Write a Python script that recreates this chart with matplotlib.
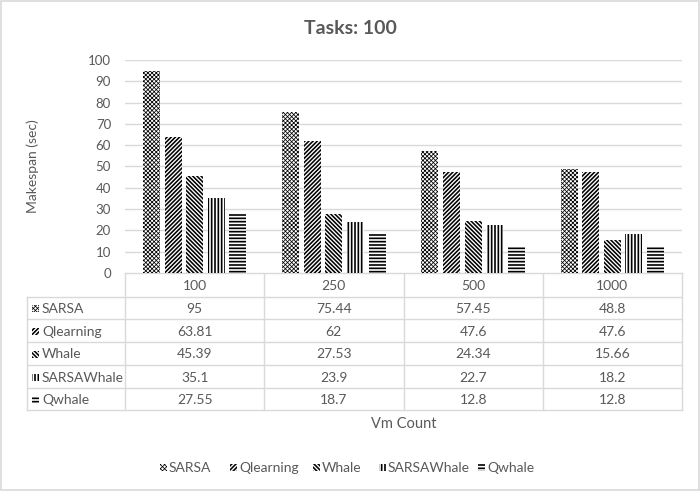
import matplotlib
matplotlib.use("Agg")
import matplotlib.pyplot as plt
from matplotlib.patches import Rectangle
import numpy as np

plt.rcParams['font.family'] = ['Lato', 'DejaVu Sans']
plt.rcParams['hatch.linewidth'] = 1.2

title = "Tasks: 100"
categories = ["100", "250", "500", "1000"]
series_names = ["SARSA", "Qlearning", "Whale", "SARSAWhale", "Qwhale"]
sarsa = [95, 75.44, 57.45, 48.8]
qlearning = [63.81, 62, 47.6, 47.6]
whale = [45.39, 27.53, 24.34, 15.66]
sarsawhale = [35.1, 23.9, 22.7, 18.2]
qwhale = [27.55, 18.7, 12.8, 12.8]
series_values = [sarsa, qlearning, whale, sarsawhale, qwhale]
yticks = [0, 10, 20, 30, 40, 50, 60, 70, 80, 90, 100]
xlabel = "Vm Count"
ylabel = "Makespan (sec)"

hatches = ['xxxxxxxx', '////////', '\\' * 8, '|||||', '-----']
hatch_lw = [0.55, 1.15, 1.15, 1.2, 1.2]
TXT = '#595959'
GRID = '#D9D9D9'

W, H = 700, 491
fig = plt.figure(figsize=(W / 100, H / 100), dpi=100)

# main axes (pixel layout)
x0, x1 = 125, 682
ytop, ybot = 60, 273
ax = fig.add_axes([x0 / W, (H - ybot) / H, (x1 - x0) / W, (ybot - ytop) / H])
n = len(series_names)
xs = np.arange(len(categories))
bw = 0.122
step = 0.155


def set_hlw(p, lw):
    try:
        p.set_hatch_linewidth(lw)
    except Exception:
        pass


for i, (name, vals) in enumerate(zip(series_names, series_values)):
    bars = ax.bar(xs + (i - (n - 1) / 2) * step, vals, width=bw, color='white',
                  edgecolor='black', linewidth=0, hatch=hatches[i], zorder=3)
    for b in bars:
        set_hlw(b, hatch_lw[i])
ax.set_xlim(-0.5, len(categories) - 0.5)
ax.set_ylim(0, 100)
ax.set_yticks(yticks)
ax.set_yticklabels([str(t) for t in yticks])
ax.tick_params(axis='y', length=0, pad=10, labelsize=9.5, colors=TXT)
ax.set_xticks([])
ax.grid(axis='y', color=GRID, linewidth=1, zorder=0)
for s in ax.spines.values():
    s.set_visible(False)

# overlay in pixel coordinates for title, table, labels, legend
ov = fig.add_axes([0, 0, 1, 1], zorder=-1)
ov.set_xlim(0, W)
ov.set_ylim(H, 0)
ov.axis('off')
ov.add_patch(Rectangle((1, 1), W - 2.5, H - 2.5, fill=False, edgecolor=GRID, linewidth=1.2))

ov.text(W / 2, 28, title, ha='center', va='center', fontsize=14, fontweight='bold', color=TXT)
ov.text(33, 166, ylabel, ha='center', va='center', rotation=90, fontsize=10, color=TXT)

# table
tl = 27
col_edges = np.linspace(x0, x1, len(categories) + 1)
row_edges = [273, 297, 319, 342, 365, 388, 410]
lc = dict(color=GRID, linewidth=1)
ov.plot([x0, x1], [row_edges[0], row_edges[0]], **lc)
for r in row_edges[1:]:
    ov.plot([tl, x1], [r, r], **lc)
for c in col_edges:
    ov.plot([c, c], [row_edges[0], row_edges[-1]], **lc)
ov.plot([tl, tl], [row_edges[1], row_edges[-1]], **lc)
for j, cat in enumerate(categories):
    cx = (col_edges[j] + col_edges[j + 1]) / 2
    ov.text(cx, (row_edges[0] + row_edges[1]) / 2 + 1, cat, ha='center', va='center',
            fontsize=10, color=TXT)
for i, (name, vals) in enumerate(zip(series_names, series_values)):
    cy = (row_edges[i + 1] + row_edges[i + 2]) / 2 + 1
    p = Rectangle((32, cy - 4), 7, 7, facecolor='white', edgecolor='black',
                  linewidth=0, hatch=hatches[i])
    set_hlw(p, hatch_lw[i])
    ov.add_patch(p)
    ov.text(42, cy, name, ha='left', va='center', fontsize=10, color=TXT)
    for j, v in enumerate(vals):
        cx = (col_edges[j] + col_edges[j + 1]) / 2
        ov.text(cx, cy, f"{v:g}", ha='center', va='center', fontsize=10, color=TXT)

ov.text((x0 + x1) / 2, 424, xlabel, ha='center', va='center', fontsize=10.5, color=TXT)

# legend
leg_x = [160, 230, 313, 379, 478]
for i, name in enumerate(series_names):
    p = Rectangle((leg_x[i], 464), 7, 7, facecolor='white', edgecolor='black',
                  linewidth=0, hatch=hatches[i])
    set_hlw(p, hatch_lw[i])
    ov.add_patch(p)
    ov.text(leg_x[i] + 9, 467.5, name, ha='left', va='center', fontsize=10, color=TXT)

fig.savefig('out.png', dpi=100)
